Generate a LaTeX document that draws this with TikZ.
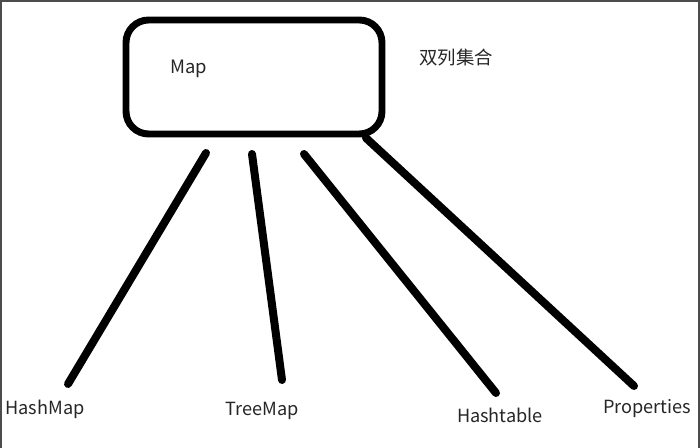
\documentclass[tikz,border=0pt]{standalone}
\usepackage{fontspec}
\setmainfont{Noto Sans CJK SC}
\begin{document}
\begin{tikzpicture}[x=0.75pt,y=-0.75pt,
  lbl/.style={font=\fontsize{13.6}{15}\selectfont, inner sep=0pt, text=black!85},
  link/.style={line width=6pt, line cap=round, black},
  mapbox/.style={draw=black, line width=5.2pt, rounded corners=17pt, minimum width=192pt, minimum height=85.5pt, inner sep=0pt}]
\useasboundingbox (0,0) rectangle (700,448);
\fill[white] (0,0) rectangle (700,448);
% screenshot frame
\draw[black!70, line width=1.5pt] (1,448) -- (1,1) -- (699,1) -- (699,448);
% Map box
\node[mapbox] (map) at (254,77) {};
\node[lbl, font=\fontsize{13.8}{15}\selectfont] (maplbl) at (189,69) {Map};
\node[lbl, font=\fontsize{13.8}{15}\selectfont] (note) at (456,58) {双列集合};
% labels
\node[lbl] (hm) at (45,409) {HashMap};
\node[lbl] (tm) at (262,411) {TreeMap};
\node[lbl] (ht) at (500,415) {Hashtable};
\node[lbl] (pr) at (647,409) {Properties};
% connector ends
\coordinate (t1) at (206,153);
\coordinate (b1) at (68,384);
\coordinate (t2) at (252,154);
\coordinate (b2) at (282,380);
\coordinate (t3) at (304,154);
\coordinate (b3) at (496,393);
\coordinate (t4) at (366,138);
\coordinate (b4) at (634,386);
\draw[link] (t1) -- (b1);
\draw[link] (t2) -- (b2);
\draw[link] (t3) -- (b3);
\draw[link] (t4) -- (b4);
\end{tikzpicture}
\end{document}
